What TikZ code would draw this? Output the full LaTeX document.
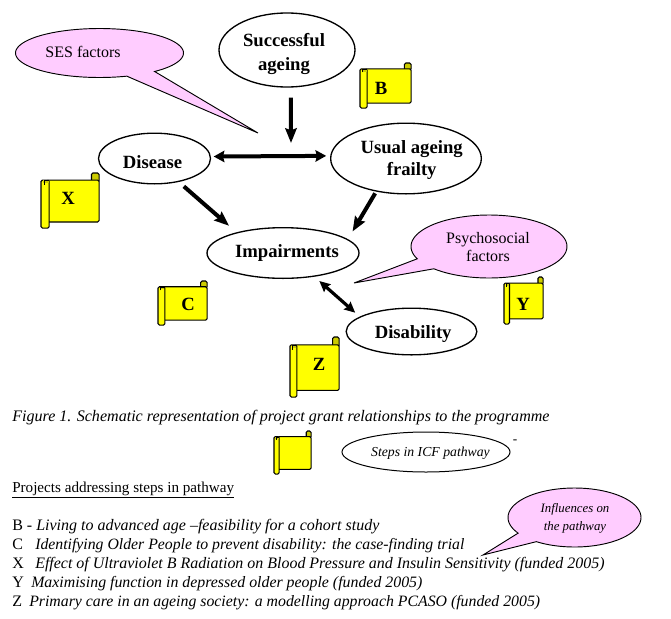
\documentclass[tikz,border=0pt]{standalone}
\usepackage{fontspec}
\setmainfont{Liberation Serif}
\usetikzlibrary{arrows.meta,shapes.geometric}
\definecolor{bubblepink}{HTML}{FFCCFF}
\definecolor{scrollyellow}{HTML}{FFFF00}
\definecolor{curlyellow}{HTML}{CCCC00}
\tikzset{
  stepnode/.style={draw=black,ellipse,line width=1pt,fill=white,inner sep=0pt,font=\fontsize{14}{18}\selectfont\bfseries},
  bubbleshape/.style={draw=black,fill=bubblepink,line width=0.7pt,line join=miter},
  bubbletext/.style={inner sep=0pt,align=center,font=\fontsize{12}{13.5}\selectfont},
  scrollshape/.style={draw=black,fill=scrollyellow,line width=0.8pt,rounded corners=1pt},
  scrollletter/.style={inner sep=0pt,font=\fontsize{14}{18}\selectfont\bfseries},
  bodytext/.style={anchor=base west,inner sep=0pt,font=\fontsize{12}{14}\selectfont},
  fatarrow/.style={line width=3pt,-{Stealth[length=11pt,width=8.5pt,inset=1.5pt]}},
  fatboth/.style={line width=3pt,{Stealth[length=8pt,width=8.5pt,inset=1pt]}-{Stealth[length=8pt,width=8.5pt,inset=1pt]}},
  medboth/.style={line width=2.4pt,{Stealth[length=8pt,width=7.5pt,inset=1pt]}-{Stealth[length=8pt,width=7.5pt,inset=1pt]}}
}
% text set in a box of no size, so that it does not change the ellipse: #1 x offset, #2 raise of first baseline, #3 rows
\newcommand{\placed}[3]{\raisebox{#2}[0pt][0pt]{\makebox[0pt]{\hspace*{#1}\begin{tabular}[t]{@{}c@{}}#3\end{tabular}}}}
% #1 x, #2 y, #3 w, #4 h (px)
\newcommand{\scrollart}[4]{%
  \begin{scope}[shift={(#1,#2)},x=#3*0.0075pt,y=-#4*0.0075pt]
    \draw[scrollshape,fill=curlyellow] (87,0) rectangle (100,16);
    \draw[scrollshape] (10,13) -- (100,13) -- (100,89) -- (10,89) -- cycle;
    \draw[scrollshape] (0,13) rectangle (14,100);
    \fill[curlyellow] (4,13.5) rectangle (13,19);
    \draw[line width=0.5pt] (5,21) -- (5,14) -- (13,14);
  \end{scope}}
% #1 cx #2 cy #3 rx #4 ry #5 t-start #6 t-end #7 tipx #8 tipy
\newcommand{\bubbleart}[8]{%
  \draw[bubbleshape] (#7,#8) -- plot[domain=#5:#6,samples=90,variable=\t] ({#1+#3*cos(\t)},{#2+#4*sin(\t)}) -- cycle;}
\begin{document}
\begin{tikzpicture}[x=0.75pt,y=-0.75pt]
\useasboundingbox[fill=white] (0,0) rectangle (671,618);

% callouts
\bubbleart{99.5}{53}{84}{24.5}{71}{409}{258}{133}
\node[bubbletext] (ses) at (83,52) {SES factors};
\bubbleart{489}{246.5}{78}{31.5}{157}{495}{354}{283}
\node[bubbletext] (psycho) at (488,247) {Psychosocial\\factors};
\bubbleart{574.5}{517.5}{66.5}{29.5}{148}{485}{483}{555}
\node[bubbletext,font=\fontsize{9.6}{13.5}\selectfont\itshape] (influences) at (575,518) {Influences on\\the pathway};

% pathway steps
\node[stepnode,minimum width=102pt,minimum height=55.5pt] (succ) at (287,50) {\placed{-4.5pt}{3pt}{Successful\\ageing}};
\node[stepnode,minimum width=84pt,minimum height=38pt] (disease) at (154.5,158.5) {\placed{-3pt}{-7.5pt}{Disease}};
\node[stepnode,minimum width=113pt,minimum height=53pt,font=\fontsize{14}{16.5}\selectfont\bfseries] (usual) at (406,158.5) {\placed{8.5pt}{3.5pt}{Usual ageing\\frailty}};
\node[stepnode,minimum width=114pt,minimum height=38pt] (imp) at (283,253) {\placed{6pt}{-3.5pt}{Impairments}};
\node[stepnode,minimum width=98pt,minimum height=35pt] (dis) at (411.5,331.5) {\placed{2.5pt}{-5pt}{Disability}};
\coordinate (hub) at (291,143);

% connectors
\draw[fatarrow,shorten <=7.5pt] (succ.-84) -- (hub);
\draw[fatboth,shorten <=2pt,shorten >=3pt] (disease.2.6) -- (usual.178.1);
\draw[fatarrow,shorten <=5pt,shorten >=7.5pt] (disease.-44.5) -- (imp.156.3);
\draw[fatarrow,shorten <=1.5pt,shorten >=6.75pt] (usual.-132.4) -- (imp.12.8);
\draw[medboth,shorten <=4.9pt,shorten >=4.5pt] (imp.-37.4) -- (dis.164);

% scrolls
\scrollart{360}{63}{51}{45}
\node[scrollletter] (B) at (381,88) {B};
\scrollart{41}{173}{58}{55}
\node[scrollletter] (X) at (68,198) {X};
\scrollart{158}{281}{49}{44}
\node[scrollletter] (C) at (188,304) {C};
\scrollart{504}{277}{39}{47}
\node[scrollletter] (Y) at (523,304) {Y};
\scrollart{290}{337}{49}{60}
\node[scrollletter] (Z) at (319,364) {Z};

% caption and legend
\node[bodytext,font=\fontsize{12.05}{14}\selectfont\itshape] (caption) at (12,421) {Figure 1. Schematic representation of project grant relationships to the programme};
\scrollart{274}{431}{37}{43}
\node[draw=black,ellipse,line width=0.75pt,inner sep=0pt,minimum width=126pt,minimum height=30pt,font=\fontsize{10.3}{14}\selectfont\itshape] (legend) at (426,452) {\placed{6.75pt}{-3pt}{Steps in ICF pathway}};
\node[inner sep=0pt,font=\fontsize{10}{12}\selectfont] (tick) at (515,442) {-};

% project list
\node[bodytext,font=\fontsize{11.35}{14}\selectfont] (heading) at (12,492) {\underline{Projects addressing steps in pathway}};
\node[bodytext] (lb) at (12,530) {\makebox[18pt][l]{B - }\textit{Living to advanced age –feasibility for a cohort study}};
\node[bodytext] (lc) at (12,549) {\makebox[17.25pt][l]{\fontsize{12}{14}\selectfont C}\fontsize{11.83}{14}\selectfont\textit{Identifying Older People to prevent disability: the case-finding trial}};
\node[bodytext] (lx) at (12,568) {\makebox[17.25pt][l]{\fontsize{12}{14}\selectfont X}\fontsize{11.96}{14}\selectfont\textit{Effect of Ultraviolet B Radiation on Blood Pressure and Insulin Sensitivity (funded 2005)}};
\node[bodytext] (ly) at (12,587) {\makebox[14.25pt][l]{\fontsize{12}{14}\selectfont Y}\fontsize{11.9}{14}\selectfont\textit{Maximising function in depressed older people (funded 2005)}};
\node[bodytext] (lz) at (12,606) {\makebox[12.75pt][l]{\fontsize{12}{14}\selectfont Z}\fontsize{11.86}{14}\selectfont\textit{Primary care in an ageing society: a modelling approach PCASO (funded 2005)}};
\end{tikzpicture}
\end{document}
